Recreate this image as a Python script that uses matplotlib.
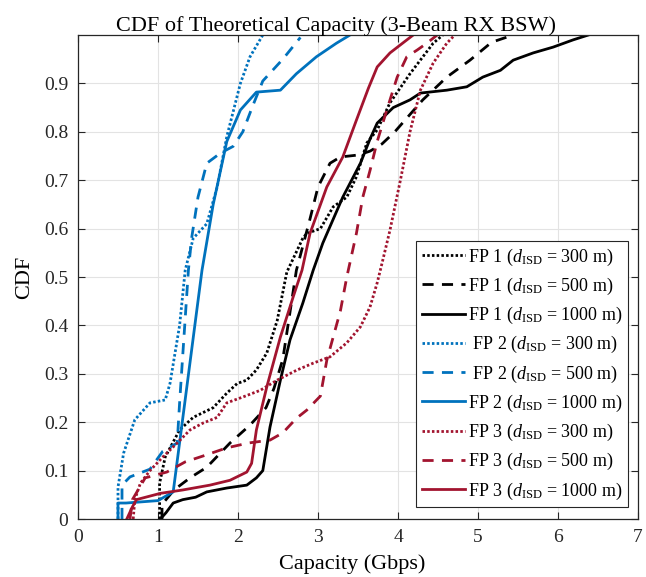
import matplotlib
matplotlib.use("Agg")
import matplotlib.pyplot as plt

plt.rcParams['font.family'] = ['Liberation Serif', 'DejaVu Serif']
plt.rcParams['mathtext.fontset'] = 'custom'
plt.rcParams['mathtext.rm'] = 'Liberation Serif'
plt.rcParams['mathtext.it'] = 'Liberation Serif:italic'

title = "CDF of Theoretical Capacity (3-Beam RX BSW)"
xlabel = "Capacity (Gbps)"
ylabel = "CDF"

# FP 1
fp1_300_x = [1.02, 1.02, 1.09, 1.27, 1.44, 1.69, 1.86, 1.99, 2.11, 2.23, 2.36, 2.49, 2.61, 2.81, 2.86, 3.03, 3.19, 3.36, 3.48, 3.61, 3.74, 3.90, 4.15, 4.44, 4.56]
fp1_300_y = [0.0, 0.074, 0.128, 0.184, 0.21, 0.23, 0.26, 0.28, 0.287, 0.308, 0.343, 0.41, 0.51, 0.58, 0.59, 0.60, 0.645, 0.665, 0.707, 0.777, 0.804, 0.86, 0.92, 0.983, 1.0]
fp1_500_x = [1.05, 1.05, 1.20, 1.40, 1.61, 1.90, 2.15, 2.35, 2.45, 2.56, 2.73, 2.90, 3.00, 3.15, 3.28, 3.50, 3.65, 3.80, 3.96, 4.31, 4.61, 4.90, 5.17, 5.44]
fp1_500_y = [0.0, 0.03, 0.06, 0.085, 0.107, 0.157, 0.194, 0.23, 0.27, 0.33, 0.514, 0.62, 0.686, 0.735, 0.748, 0.752, 0.76, 0.775, 0.80, 0.866, 0.913, 0.948, 0.985, 1.0]
fp1_1000_x = [1.03, 1.10, 1.19, 1.31, 1.47, 1.61, 1.86, 2.11, 2.23, 2.31, 2.40, 2.53, 2.65, 2.81, 2.94, 3.06, 3.31, 3.53, 3.65, 3.74, 3.94, 4.15, 4.28, 4.61, 4.86, 5.06, 5.28, 5.44, 5.69, 5.94, 6.19, 6.38]
fp1_1000_y = [0.0, 0.013, 0.033, 0.04, 0.045, 0.056, 0.064, 0.07, 0.085, 0.10, 0.19, 0.287, 0.37, 0.446, 0.514, 0.57, 0.665, 0.735, 0.785, 0.818, 0.85, 0.866, 0.88, 0.886, 0.893, 0.913, 0.927, 0.948, 0.963, 0.975, 0.99, 1.0]

# FP 2
fp2_300_x = [0.50, 0.50, 0.57, 0.71, 0.90, 1.09, 1.15, 1.27, 1.34, 1.44, 1.61, 1.74, 1.86, 2.03, 2.15, 2.31]
fp2_300_y = [0.0, 0.066, 0.136, 0.205, 0.24, 0.246, 0.28, 0.40, 0.514, 0.58, 0.61, 0.686, 0.79, 0.90, 0.955, 1.0]
fp2_500_x = [0.55, 0.55, 0.65, 0.90, 1.06, 1.24, 1.27, 1.31, 1.38, 1.42, 1.50, 1.61, 1.78, 1.94, 2.06, 2.19, 2.31, 2.56, 2.78]
fp2_500_y = [0.0, 0.07, 0.087, 0.103, 0.14, 0.157, 0.24, 0.34, 0.514, 0.58, 0.665, 0.735, 0.756, 0.77, 0.80, 0.856, 0.905, 0.95, 0.995]
fp2_1000_x = [0.50, 0.50, 0.60, 1.00, 1.19, 1.55, 1.69, 1.86, 2.03, 2.23, 2.53, 2.73, 2.98, 3.23, 3.40]
fp2_1000_y = [0.0, 0.033, 0.033, 0.038, 0.056, 0.514, 0.65, 0.78, 0.845, 0.882, 0.886, 0.92, 0.955, 0.983, 1.0]

# FP 3
fp3_300_x = [0.69, 0.71, 0.78, 0.90, 1.06, 1.24, 1.40, 1.56, 1.74, 1.86, 2.06, 2.28, 2.49, 2.74, 2.94, 3.15, 3.36, 3.53, 3.65, 3.74, 3.81, 3.90, 4.03, 4.15, 4.28, 4.44, 4.61, 4.71]
fp3_300_y = [0.0, 0.04, 0.074, 0.10, 0.128, 0.157, 0.184, 0.198, 0.21, 0.24, 0.252, 0.266, 0.287, 0.308, 0.322, 0.335, 0.364, 0.397, 0.438, 0.488, 0.535, 0.597, 0.70, 0.80, 0.886, 0.942, 0.983, 1.0]
fp3_500_x = [0.65, 0.68, 0.84, 1.11, 1.34, 1.56, 1.86, 2.13, 2.40, 2.56, 2.73, 2.86, 3.03, 3.11, 3.19, 3.28, 3.36, 3.48, 3.56, 3.65, 3.74, 3.86, 3.99, 4.11, 4.24, 4.36, 4.49]
fp3_500_y = [0.0, 0.04, 0.085, 0.097, 0.118, 0.13, 0.147, 0.157, 0.163, 0.178, 0.208, 0.225, 0.254, 0.328, 0.376, 0.43, 0.50, 0.59, 0.665, 0.72, 0.78, 0.845, 0.913, 0.955, 0.969, 0.983, 1.0]
fp3_1000_x = [0.61, 0.68, 0.73, 1.03, 1.31, 1.65, 1.90, 2.11, 2.17, 2.23, 2.36, 2.53, 2.69, 2.80, 2.90, 3.11, 3.31, 3.48, 3.63, 3.74, 3.90, 4.19]
fp3_1000_y = [0.0, 0.025, 0.04, 0.053, 0.06, 0.07, 0.08, 0.097, 0.115, 0.184, 0.273, 0.376, 0.459, 0.514, 0.59, 0.686, 0.748, 0.824, 0.89, 0.934, 0.963, 1.0]

labels = [
    r"FP 1 ($d_{\mathrm{ISD}}$ = 300 m)",
    r"FP 1 ($d_{\mathrm{ISD}}$ = 500 m)",
    r"FP 1 ($d_{\mathrm{ISD}}$ = 1000 m)",
    r" FP 2 ($d_{\mathrm{ISD}}$ = 300 m)",
    r" FP 2 ($d_{\mathrm{ISD}}$ = 500 m)",
    r"FP 2 ($d_{\mathrm{ISD}}$ = 1000 m)",
    r"FP 3 ($d_{\mathrm{ISD}}$ = 300 m)",
    r"FP 3 ($d_{\mathrm{ISD}}$ = 500 m)",
    r"FP 3 ($d_{\mathrm{ISD}}$ = 1000 m)",
]
xticks = [0, 1, 2, 3, 4, 5, 6, 7]
yticks = [0, 0.1, 0.2, 0.3, 0.4, 0.5, 0.6, 0.7, 0.8, 0.9]
ytick_labels = ["0", "0.1", "0.2", "0.3", "0.4", "0.5", "0.6", "0.7", "0.8", "0.9"]

black = "#000000"
blue = "#0072BD"
red = "#A2142F"
dotted = (0, (0.9, 0.8))
dashed = (0, (4, 3))

series = [
    (fp1_300_x, fp1_300_y, black, dotted),
    (fp1_500_x, fp1_500_y, black, dashed),
    (fp1_1000_x, fp1_1000_y, black, '-'),
    (fp2_300_x, fp2_300_y, blue, dotted),
    (fp2_500_x, fp2_500_y, blue, dashed),
    (fp2_1000_x, fp2_1000_y, blue, '-'),
    (fp3_300_x, fp3_300_y, red, dotted),
    (fp3_500_x, fp3_500_y, red, dashed),
    (fp3_1000_x, fp3_1000_y, red, '-'),
]

fig = plt.figure(figsize=(6.46, 5.77), dpi=100)
ax = fig.add_axes([78 / 646, 1 - 519 / 577, 560 / 646, 484 / 577])

for (xs, ys, c, ls), lab in zip(series, labels):
    ax.plot(xs, ys, color=c, linestyle=ls, linewidth=2.0, label=lab)

ax.set_xlim(0, 7)
ax.set_ylim(0, 1)
ax.set_xticks(xticks)
ax.set_yticks(yticks)
ax.set_yticklabels(ytick_labels)
ax.grid(True, color="#e3e3e3", linewidth=0.8)
ax.set_axisbelow(True)
ax.tick_params(direction='in', top=True, right=True, labelsize=14, length=5, width=0.8,
               colors="#262626", pad=7)
for sp in ax.spines.values():
    sp.set_color("#262626")
    sp.set_linewidth(0.9)

ax.set_title(title, fontsize=16, pad=3, x=(336 - 78) / 560)
ax.set_xlabel(xlabel, fontsize=16)
ax.xaxis.label.set_va('top')
ax.xaxis.set_label_coords((352 - 78) / 560, -(554 - 519) / 484)
ax.set_ylabel(ylabel, fontsize=16, labelpad=7)

leg = ax.legend(loc='lower right', bbox_to_anchor=(1 - 10 / 560, 12 / 484), fontsize=13,
                frameon=True, fancybox=False, edgecolor="#262626", framealpha=1,
                handlelength=2.4, handletextpad=0.15, labelspacing=0.45, borderpad=0.3,
                borderaxespad=0)
leg.get_frame().set_linewidth(0.8)

fig.savefig("out.png", dpi=100)
